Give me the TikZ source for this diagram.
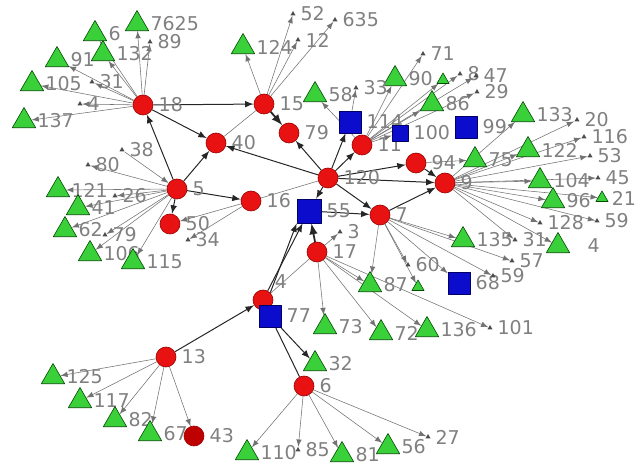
\documentclass[tikz,border=0pt]{standalone}
\usepackage{fontspec}
\setmainfont{DejaVu Sans}
\usetikzlibrary{arrows}
\usetikzlibrary{shapes.geometric}
\usetikzlibrary{backgrounds}
\definecolor{hubred}{RGB}{232,18,18}
\definecolor{leafgreen}{RGB}{58,208,58}
\definecolor{sqblue}{RGB}{12,12,205}
\tikzset{
  hub/.style={circle,fill=hubred,draw=red!60!black,line width=0.3pt,minimum size=10pt,inner sep=0pt},
  sq/.style={rectangle,fill=sqblue,draw=blue!40!black,line width=0.3pt,minimum size=11pt,inner sep=0pt},
  leaf/.style={regular polygon,regular polygon sides=3,fill=leafgreen,draw=green!30!black,line width=0.3pt,minimum size=13.5pt,inner sep=0pt},
  smallleaf/.style={leaf,minimum size=7pt},
  tiny/.style={regular polygon,regular polygon sides=3,fill=black!70,minimum size=3pt,inner sep=0pt},
  lbl/.style={text=black!50,font=\fontsize{9.5}{9.5}\selectfont,inner sep=1pt},
  link/.style={->,draw=black!85,line width=0.5pt},
  spoke/.style={->,draw=black!55,line width=0.28pt},
}
\begin{document}
\begin{tikzpicture}[line cap=round,line join=round,>=latex,x=0.5pt,y=-0.5pt,label distance=1.5pt]
\useasboundingbox (0,0) rectangle (638,470);
% hubs
\node[hub,label={[lbl]right:18}] (n18) at (143,105) {};
\node[hub,label={[lbl]right:15}] (n15) at (264,104) {};
\node[hub,label={[lbl]right:40}] (n40) at (216,143) {};
\node[hub,label={[lbl]right:79}] (n79) at (289,133) {};
\node[hub,label={[lbl]right:11}] (n11) at (362,145) {};
\node[hub,label={[lbl]right:120}] (n120) at (328,178) {};
\node[hub,label={[lbl]right:94}] (n94) at (416,163) {};
\node[hub,label={[lbl]right:9}] (n9) at (445,183) {};
\node[hub,label={[lbl]right:5}] (n5) at (177,189) {};
\node[hub,label={[lbl]right:50}] (n50) at (170,224) {};
\node[hub,label={[lbl]right:16}] (n16) at (251,201) {};
\node[hub,label={[lbl]right:7}] (n7) at (380,215) {};
\node[hub,label={[lbl]right:17}] (n17) at (317,252) {};
\node[hub,label={[lbl]above right:4}] (n4) at (263,300) {};
\node[hub,label={[lbl]right:13}] (n13) at (166,357) {};
\node[hub,label={[lbl]right:6}] (n6) at (304,386) {};
\node[hub,fill=red!75!black,label={[lbl]right:43}] (n43) at (194,436) {};
% squares
\node[sq,label={[lbl]right:114}] (n114) at (350,122) {};
\node[sq,minimum size=8pt,label={[lbl]right:100}] (n100) at (400,133) {};
\node[sq,label={[lbl]right:99}] (n99) at (466,127) {};
\node[sq,minimum size=12pt,label={[lbl]right:55}] (n55) at (309,211) {};
\node[sq,label={[lbl]right:77}] (n77) at (270,316) {};
\node[sq,label={[lbl]right:68}] (n68) at (459,283) {};
% triangles
\node[leaf,label={[lbl]right:7625}] (n7625) at (137,24) {};
\node[leaf,label={[lbl]right:6}] (n6b) at (95,34) {};
\node[leaf,label={[lbl]right:132}] (n132) at (103,54) {};
\node[leaf,label={[lbl]right:91}] (n91) at (57,60) {};
\node[leaf,label={[lbl]right:105}] (n105) at (32,84) {};
\node[leaf,label={[lbl]right:137}] (n137) at (24,121) {};
\node[leaf,label={[lbl]right:121}] (n121) at (58,190) {};
\node[leaf,label={[lbl]right:41}] (n41) at (78,208) {};
\node[leaf,label={[lbl]right:62}] (n62) at (65,230) {};
\node[leaf,label={[lbl]right:106}] (n106) at (90,254) {};
\node[leaf,label={[lbl]right:115}] (n115) at (133,262) {};
\node[leaf,label={[lbl]right:124}] (n124) at (243,47) {};
\node[leaf,label={[lbl]right:58}] (n58) at (315,95) {};
\node[leaf,label={[lbl]right:90}] (n90) at (395,79) {};
\node[leaf,label={[lbl]right:86}] (n86) at (432,104) {};
\node[leaf,label={[lbl]right:133}] (n133) at (523,115) {};
\node[leaf,label={[lbl]right:122}] (n122) at (528,150) {};
\node[leaf,label={[lbl]right:75}] (n75) at (475,160) {};
\node[leaf,label={[lbl]right:104}] (n104) at (540,181) {};
\node[leaf,label={[lbl]right:96}] (n96) at (553,201) {};
\node[leaf,label={[lbl,xshift=8pt]right:4}] (n4b) at (558,246) {};
\node[leaf,label={[lbl]right:135}] (n135) at (463,240) {};
\node[leaf,label={[lbl]right:87}] (n87) at (370,285) {};
\node[leaf,label={[lbl]right:73}] (n73) at (325,327) {};
\node[leaf,label={[lbl]right:72}] (n72) at (381,333) {};
\node[leaf,label={[lbl]right:136}] (n136) at (427,330) {};
\node[leaf,label={[lbl]right:32}] (n32) at (315,364) {};
\node[leaf,label={[lbl]right:125}] (n125) at (53,377) {};
\node[leaf,label={[lbl]right:117}] (n117) at (80,401) {};
\node[leaf,label={[lbl]right:82}] (n82) at (115,420) {};
\node[leaf,label={[lbl]right:67}] (n67) at (150,434) {};
\node[leaf,label={[lbl]right:110}] (n110) at (247,453) {};
\node[leaf,label={[lbl]right:81}] (n81) at (342,455) {};
\node[leaf,label={[lbl]right:56}] (n56) at (388,447) {};
\node[smallleaf,label={[lbl]right:21}] (n21) at (602,198) {};
\node[smallleaf] (nsm) at (418,287) {};
\node[smallleaf] (n71g) at (443,80) {};
% far nodes
\node[tiny,label={[lbl]right:89}] (n89) at (150,42) {};
\node[tiny,label={[lbl]right:31}] (n31a) at (92,82) {};
\node[tiny,label={[lbl]right:4}] (n4a) at (80,104) {};
\node[tiny,label={[lbl]right:38}] (n38) at (122,150) {};
\node[tiny,label={[lbl]right:80}] (n80) at (88,165) {};
\node[tiny,label={[lbl]right:26}] (n26) at (115,196) {};
\node[tiny,label={[lbl]right:79}] (n79b) at (105,235) {};
\node[tiny,label={[lbl]right:34}] (n34) at (188,240) {};
\node[tiny,label={[lbl]right:52}] (n52) at (293,14) {};
\node[tiny,label={[lbl]right:635}] (n635) at (335,20) {};
\node[tiny,label={[lbl]right:12}] (n12) at (298,40) {};
\node[tiny,label={[lbl]right:33}] (n33) at (356,88) {};
\node[tiny,label={[lbl]right:71}] (n71) at (423,54) {};
\node[tiny,label={[lbl]right:8}] (n8) at (460,74) {};
\node[tiny,label={[lbl]right:47}] (n47) at (476,76) {};
\node[tiny,label={[lbl]right:29}] (n29) at (477,92) {};
\node[tiny,label={[lbl]right:20}] (n20) at (577,120) {};
\node[tiny,label={[lbl]right:116}] (n116) at (584,137) {};
\node[tiny,label={[lbl]right:53}] (n53) at (590,156) {};
\node[tiny,label={[lbl]right:45}] (n45) at (598,178) {};
\node[tiny,label={[lbl]right:128}] (n128) at (540,223) {};
\node[tiny,label={[lbl]right:59}] (n59a) at (597,221) {};
\node[tiny,label={[lbl]right:31}] (n31b) at (515,240) {};
\node[tiny,label={[lbl]right:57}] (n57) at (512,261) {};
\node[tiny,label={[lbl]right:59}] (n59b) at (493,276) {};
\node[tiny,label={[lbl]right:60}] (n60) at (408,265) {};
\node[tiny,label={[lbl]right:3}] (n3) at (340,232) {};
\node[tiny,label={[lbl]right:101}] (n101) at (490,328) {};
\node[tiny,label={[lbl]right:85}] (n85) at (298,450) {};
\node[tiny,label={[lbl]right:27}] (n27) at (428,437) {};
% connectors
\begin{scope}[on background layer]
\draw[link] (n18) -- (n15);
\draw[link] (n18) -- (n40);
\draw[link] (n5) -- (n18);
\draw[link] (n5) -- (n40);
\draw[link] (n5) -- (n16);
\draw[link] (n5) -- (n50);
\draw[spoke,-] (n40) -- (n15);
\draw[link,line width=0.9pt] (n15) -- (n79);
\draw[link] (n120) -- (n79);
\draw[link] (n120) -- (n40);
\draw[spoke,-] (n16) -- (n120);
\draw[link] (n120) -- (n114);
\draw[link] (n120) -- (n11);
\draw[link] (n120) -- (n94);
\draw[link] (n120) -- (n9);
\draw[link] (n120) -- (n7);
\draw[link] (n120) -- (n55);
\draw[link] (n94) -- (n9);
\draw[link] (n7) -- (n9);
\draw[link] (n55) -- (n7);
\draw[link,line width=0.9pt] (n17) -- (n55);
\draw[link] (n4) -- (n55);
\draw[link] (n4.north east) -- (n55.south west);
\draw[link] (n13) -- (n4);
\draw[link,-] (n4) -- (n77);
\draw[link] (n77) -- (n32);
\draw[link,-] (n77) -- (n6);
\draw[spoke,-] (n17) -- (n4);
\draw[spoke] (n16) -- (n50);
\draw[spoke] (n16) -- (n34);
\draw[spoke] (n38) -- (n5);
\draw[spoke] (n114) -- (n33);
\draw[spoke] (n94) -- (n75);
\draw[spoke] (n17) -- (n101);
\foreach \t in {n7625,n6b,n132,n89,n91,n105,n31a,n4a,n137}
  \draw[spoke] (n18) -- (\t);
\foreach \t in {n124,n12,n52,n635}
  \draw[spoke] (n15) -- (\t);
\foreach \t in {n80,n121,n26,n41,n62,n79b,n106,n115}
  \draw[spoke] (n5) -- (\t);
\foreach \t in {n58,n90,n86,n71g,n71,n8,n47,n29,n100}
  \draw[spoke] (n11) -- (\t);
\foreach \t in {n133,n122,n20,n116,n53,n104,n45,n96,n21,n128,n59a,n4b,n31b}
  \draw[spoke] (n9) -- (\t);
\foreach \t in {n135,n57,n59b,n68,n60,nsm,n87}
  \draw[spoke] (n7) -- (\t);
\foreach \t in {n87,n73,n72,n136,n3}
  \draw[spoke] (n17) -- (\t);
\foreach \t in {n125,n117,n82,n67,n43}
  \draw[spoke] (n13) -- (\t);
\foreach \t in {n110,n85,n81,n56,n27}
  \draw[spoke] (n6) -- (\t);
\end{scope}
\end{tikzpicture}
\end{document}
